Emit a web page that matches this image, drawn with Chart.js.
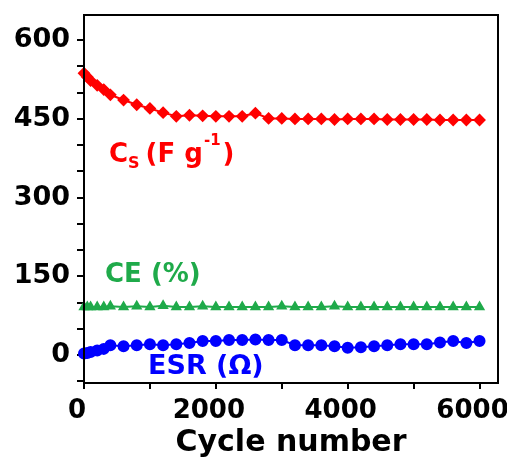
<!DOCTYPE html>
<html lang="en">
<head>
    <meta charset="UTF-8">
    <title>Cycle stability</title>
    <script src="https://cdn.jsdelivr.net/npm/chart.js"></script>
    <style>
        html, body { margin: 0; padding: 0; background: #ffffff; }
        #wrap { width: 507px; height: 461px; }
    </style>
</head>
<body>
    <div id="wrap"><canvas id="cycleChart" width="507" height="461"></canvas></div>
    <script>
        // data
        const cycles = [0, 50, 100, 200, 300, 400, 600, 800, 1000, 1200, 1400, 1600, 1800, 2000, 2200, 2400, 2600,
            2800, 3000, 3200, 3400, 3600, 3800, 4000, 4200, 4400, 4600, 4800, 5000, 5200, 5400, 5600, 5800, 6000];
        const capacitance = [537, 530, 523, 514, 506, 496, 486, 477, 470, 462, 455, 457, 456, 455, 455, 455, 461,
            451, 451, 450, 450, 450, 449, 450, 450, 450, 449, 449, 449, 449, 448, 448, 448, 448];
        const efficiency = [92, 92, 92, 92, 92, 93, 92, 93, 92, 94, 92, 92, 93, 92, 92, 92, 92,
            92, 93, 92, 92, 92, 93, 92, 92, 92, 92, 92, 92, 92, 92, 92, 92, 92];
        const esr = [3, 4, 6, 9, 12, 19, 17, 19, 21, 19, 21, 23, 27, 27, 29, 29, 30,
            29, 29, 19, 19, 19, 17, 14, 15, 17, 19, 21, 21, 21, 24, 27, 23, 27];
        const yTicks = [0, 150, 300, 450, 600];
        const yMinor = [-50, 0, 50, 100, 150, 200, 250, 300, 350, 400, 450, 500, 550, 600];
        const xTicks = [0, 2000, 4000, 6000];
        const xMinor = [0, 1000, 2000, 3000, 4000, 5000, 6000];

        const pts = arr => arr.map((v, i) => ({ x: cycles[i], y: v }));
        const FONT = '"DejaVu Sans", Arial, sans-serif';

        const frame = {
            id: 'frame',
            afterDatasetsDraw(chart) {
                const { ctx, chartArea: a } = chart;
                ctx.save();
                ctx.strokeStyle = '#000';
                ctx.lineWidth = 2;
                ctx.strokeRect(a.left, a.top, a.right - a.left, a.bottom - a.top);

                ctx.textBaseline = 'alphabetic';
                // Cs (F g-1)
                ctx.fillStyle = '#ff0000';
                ctx.font = 'bold 26px ' + FONT;
                let x = 109;
                ctx.fillText('C', x, 162); x += ctx.measureText('C').width;
                ctx.font = 'bold 16px ' + FONT;
                ctx.fillText('S', x, 168); x += ctx.measureText('S').width + 6;
                ctx.font = 'bold 26px ' + FONT;
                ctx.fillText('(F g', x, 162); x += ctx.measureText('(F g').width + 1;
                ctx.font = 'bold 15px ' + FONT;
                ctx.fillText('-1', x, 145); x += ctx.measureText('-1').width + 2;
                ctx.font = 'bold 26px ' + FONT;
                ctx.fillText(')', x, 162);

                ctx.fillStyle = '#1faa4a';
                ctx.fillText('CE (%)', 105, 282);
                ctx.fillStyle = '#0000ff';
                ctx.font = 'bold 27px ' + FONT;
                ctx.fillText('ESR (\u03A9)', 148, 374);
                ctx.restore();
            }
        };

        new Chart(document.getElementById('cycleChart'), {
            type: 'scatter',
            data: {
                datasets: [
                    { data: pts(capacitance), borderColor: '#ff0000', backgroundColor: '#ff0000',
                      pointStyle: 'rectRot', pointRadius: 5, borderWidth: 2, showLine: true, clip: 10 },
                    { data: pts(efficiency), borderColor: '#1faa4a', backgroundColor: '#1faa4a',
                      pointStyle: 'triangle', pointRadius: 4.5, borderWidth: 2, showLine: true, clip: 10 },
                    { data: pts(esr), borderColor: '#0000ff', backgroundColor: '#0000ff',
                      pointStyle: 'circle', pointRadius: 5, borderWidth: 2, showLine: true, clip: 10 }
                ]
            },
            options: {
                responsive: false,
                animation: false,
                layout: { padding: { top: 15, right: 9 } },
                plugins: { legend: { display: false }, tooltip: { enabled: false } },
                scales: {
                    x: {
                        type: 'linear', min: 0, max: 6280,
                        afterBuildTicks(s) { s.ticks = xMinor.map(v => ({ value: v })); },
                        afterFit(s) { s.height = 78; s.paddingLeft = 0; s.paddingRight = 0; },
                        grid: { drawOnChartArea: false, drawTicks: true, tickLength: 6, color: '#000', lineWidth: 2 },
                        border: { display: true, color: '#000', width: 2 },
                        ticks: {
                            autoSkip: false, maxRotation: 0, minRotation: 0, labelOffset: -7,
                            color: '#000', font: { family: FONT, size: 26, weight: 'bold' }, padding: 7,
                            callback: v => xTicks.includes(v) ? String(v) : ''
                        },
                        title: { display: true, text: 'Cycle number', color: '#000', padding: { top: 3, bottom: 0 },
                                 font: { family: FONT, size: 30, weight: 'bold' } }
                    },
                    y: {
                        min: -53, max: 648,
                        afterBuildTicks(s) { s.ticks = yMinor.map(v => ({ value: v })); },
                        afterFit(s) { s.width = 84; s.paddingTop = 0; s.paddingBottom = 0; },
                        grid: { drawOnChartArea: false, drawTicks: true, tickLength: 7, color: '#000', lineWidth: 2 },
                        border: { display: true, color: '#000', width: 2 },
                        ticks: {
                            autoSkip: false,
                            color: '#000', font: { family: FONT, size: 27, weight: 'bold' }, padding: 7,
                            callback: v => yTicks.includes(v) ? String(v) : ''
                        }
                    }
                }
            },
            plugins: [frame]
        });
    </script>
</body>
</html>
